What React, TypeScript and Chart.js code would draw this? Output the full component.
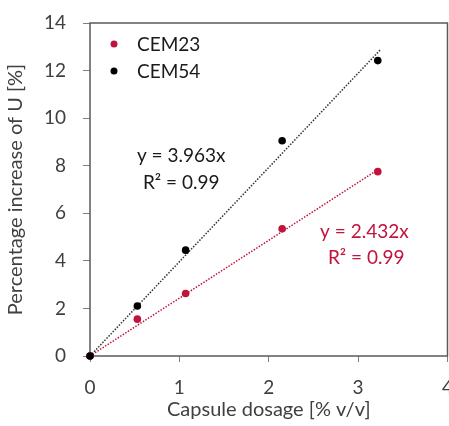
import { useEffect, useRef } from "react";
import { Chart, registerables } from "chart.js";

Chart.register(...registerables);

const dosage = [0, 0.53, 1.07, 2.15, 3.22];
const cem23 = [0, 1.55, 2.63, 5.35, 7.75];
const cem54 = [0, 2.1, 4.45, 9.05, 12.42];
const seriesNames = ["CEM23", "CEM54"];
const slope23 = 2.432;
const slope54 = 3.963;
const trendX23 = [0, 3.22];
const trendX54 = [0, 3.25];
const xTicks = [0, 1, 2, 3, 4];
const yTicks = [0, 2, 4, 6, 8, 10, 12, 14];

const RED = "#C0143C";
const BLACK = "#000000";
const TEXT = "#404040";
const FONT = "Lato, 'Open Sans', sans-serif";

const annotations = [
  { text: "y = 3.963x", x: 1.02, y: 8.43, color: "#1a1a1a" },
  { text: "R² = 0.99", x: 1.02, y: 7.29, color: "#1a1a1a" },
  { text: "y = 2.432x", x: 3.07, y: 5.22, color: RED },
  { text: "R² = 0.99", x: 3.09, y: 4.12, color: RED },
];

const framePlugin = {
  id: "frame",
  beforeDatasetsDraw(chart: any) {
    const { ctx, chartArea } = chart;
    ctx.save();
    ctx.strokeStyle = "#595959";
    ctx.lineWidth = 1.5;
    ctx.strokeRect(chartArea.left, chartArea.top, chartArea.right - chartArea.left, chartArea.bottom - chartArea.top);
    ctx.restore();
  },
  afterDatasetsDraw(chart: any) {
    const { ctx, chartArea } = chart;
    const xs = chart.scales.x;
    const ys = chart.scales.y;
    ctx.save();
    ctx.font = `19px ${FONT}`;
    ctx.textAlign = "center";
    ctx.textBaseline = "middle";
    for (const a of annotations) {
      ctx.fillStyle = a.color;
      ctx.fillText(a.text, xs.getPixelForValue(a.x), ys.getPixelForValue(a.y));
    }
    // legend (inside plot area, top-left)
    ctx.textAlign = "left";
    const sets = chart.data.datasets.filter((d: any) => seriesNames.includes(d.label));
    sets.forEach((d: any, i: number) => {
      const cy = chartArea.top + 21 + i * 27;
      const cx = chartArea.left + 24;
      ctx.fillStyle = d.backgroundColor;
      ctx.beginPath();
      ctx.arc(cx, cy, 3.5, 0, Math.PI * 2);
      ctx.fill();
      ctx.fillStyle = "#1a1a1a";
      ctx.fillText(d.label, chartArea.left + 47, cy + 1);
    });
    ctx.restore();
  },
};

export default function App() {
  const ref = useRef<HTMLCanvasElement>(null);
  useEffect(() => {
    document.body.style.margin = "0";
    const canvas = ref.current!;
    const chart = new Chart(canvas, {
      type: "scatter",
      data: {
        datasets: [
          {
            label: seriesNames[0],
            data: dosage.map((x, i) => ({ x, y: cem23[i] })),
            backgroundColor: RED,
            borderColor: RED,
            pointRadius: 3.8,
            pointBorderWidth: 0,
            clip: false,
            order: 1,
          } as any,
          {
            label: seriesNames[1],
            data: dosage.map((x, i) => ({ x, y: cem54[i] })),
            backgroundColor: BLACK,
            borderColor: BLACK,
            pointRadius: 3.8,
            pointBorderWidth: 0,
            clip: false,
            order: 0,
          } as any,
          {
            type: "line",
            label: "trend23",
            data: trendX23.map((x) => ({ x, y: slope23 * x })),
            borderColor: RED,
            borderWidth: 1.5,
            borderDash: [1.5, 1.5],
            pointRadius: 0,
            showLine: true,
            order: 3,
          } as any,
          {
            type: "line",
            label: "trend54",
            data: trendX54.map((x) => ({ x, y: slope54 * x })),
            borderColor: "#333333",
            borderWidth: 1.5,
            borderDash: [1.5, 1.5],
            pointRadius: 0,
            showLine: true,
            order: 2,
          } as any,
        ],
      },
      options: {
        responsive: false,
        animation: false,
        devicePixelRatio: 1,
        layout: { padding: { top: 23, right: 0, left: 0, bottom: 0 } },
        plugins: {
          tooltip: { enabled: false },
          legend: { display: false },
        },
        scales: {
          x: {
            type: "linear",
            min: 0,
            max: 4,
            afterBuildTicks: (s: any) => {
              s.ticks = xTicks.map((v) => ({ value: v }));
            },
            afterFit: (s: any) => {
              s.height = 70;
            },
            grid: { display: true, drawOnChartArea: false, drawTicks: true, tickLength: 6, color: "#7f7f7f" },
            border: { display: false },
            ticks: { color: TEXT, font: { family: FONT, size: 19 }, padding: 14 },
            title: { display: true, text: "Capsule dosage [% v/v]", color: TEXT, font: { family: FONT, size: 20 }, padding: { top: 4 } },
          },
          y: {
            type: "linear",
            min: 0,
            max: 14,
            afterBuildTicks: (s: any) => {
              s.ticks = yTicks.map((v) => ({ value: v }));
            },
            afterFit: (s: any) => {
              s.width = 90;
              s.paddingTop = 0;
              s.paddingBottom = 0;
            },
            grid: { display: true, drawOnChartArea: false, drawTicks: true, tickLength: 7, color: "#7f7f7f" },
            border: { display: false },
            ticks: { color: TEXT, font: { family: FONT, size: 19 }, padding: 17 },
            title: { display: true, text: "Percentage increase of U [%]", color: TEXT, font: { family: FONT, size: 20 }, padding: { bottom: 4 } },
          },
        },
      },
      plugins: [framePlugin],
    });
    return () => chart.destroy();
  }, []);
  return (
    <div style={{ width: 449, height: 426, overflow: "hidden", position: "relative", background: "#fff" }}>
      <div style={{ width: 467, height: 426 }}>
        <canvas ref={ref} width={467} height={426} style={{ display: "block" }} />
      </div>
    </div>
  );
}
